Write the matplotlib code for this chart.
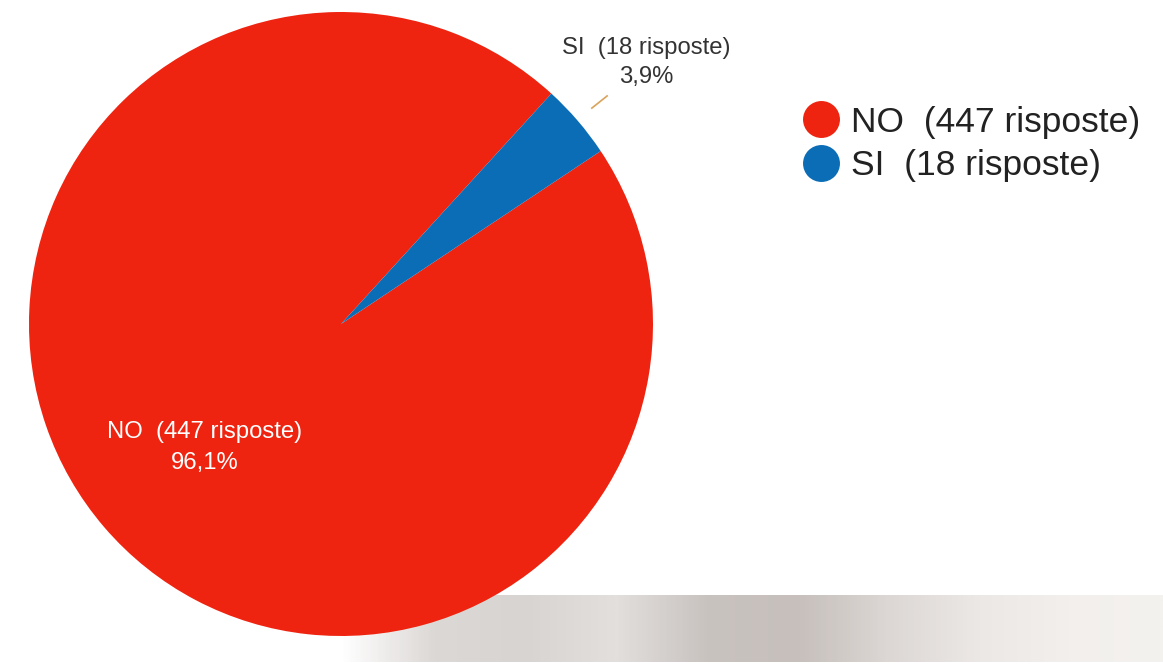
import numpy as np
import matplotlib.pyplot as plt
from matplotlib.lines import Line2D
from matplotlib.colors import LinearSegmentedColormap

plt.rcParams['font.family'] = ['Liberation Sans', 'DejaVu Sans']

# data
labels = ['NO', 'SI']
counts = [447, 18]
pct_text = ['96,1%', '3,9%']
colors = ['#EE2410', '#0B6DB6']

W, H = 1163, 664
fig = plt.figure(figsize=(W / 100, H / 100), dpi=100)

# faint photo-like grey band at the bottom (background)
bg = fig.add_axes([340 / W, 2 / H, (W - 340) / W, 67 / H], zorder=0)
band = LinearSegmentedColormap.from_list(
    'band', ['#ffffff', '#dcd8d6', '#d8d4d2', '#e2dfdc', '#c9c3c0', '#c6bfbc',
             '#dcd7d4', '#ece8e5', '#f2efec', '#f4f2ef'])
grad = np.tile(np.linspace(0, 1, 400), (10, 1))
bg.imshow(grad, cmap=band, aspect='auto', extent=[0, 1, 0, 1])
bg.axis('off')

# pie: centre (341, 324) px, radius 312 px
cx, cy, r = 341, 324, 312
ax = fig.add_axes([(cx - r) / W, (H - cy - r) / H, 2 * r / W, 2 * r / H], zorder=1)
ax.pie(counts, colors=colors, startangle=47.6, counterclock=True,
       wedgeprops=dict(linewidth=0))
ax.set_xlim(-1, 1)
ax.set_ylim(-1, 1)
ax.set_aspect('equal')
ax.axis('off')

# slice labels
ax.text(-0.436, -0.395, f'{labels[0]}  ({counts[0]} risposte)\n{pct_text[0]}',
        ha='center', va='center', color='white', fontsize=17.2, linespacing=1.55)
ax.text(0.978, 0.838, f'{labels[1]}  ({counts[1]} risposte)\n{pct_text[1]}',
        ha='center', va='center', color='#333333', fontsize=17.2, linespacing=1.4,
        clip_on=False)
ax.plot([0.804, 0.853], [0.692, 0.731], color='#D9A35A', lw=1.2, clip_on=False)

# legend
handles = [Line2D([], [], marker='o', linestyle='none', markersize=26.6,
                  markerfacecolor=c, markeredgewidth=0) for c in colors]
leg_labels = [f'{l}  ({n} risposte)' for l, n in zip(labels, counts)]
fig.legend(handles, leg_labels, loc='upper left', bbox_to_anchor=(782 / W, 1 - 88 / H),
           frameon=False, fontsize=25.5, handletextpad=0.25, labelspacing=0.3,
           handlelength=1.2, borderpad=0, labelcolor='#222222')

fig.savefig('out.png', dpi=100, facecolor='white')
